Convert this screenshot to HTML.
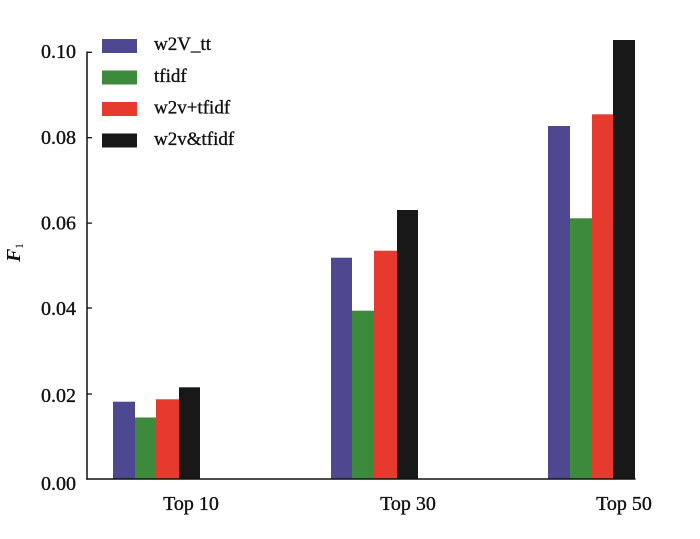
<!DOCTYPE html>
<html>
<head>
<meta charset="utf-8">
<style>
html,body{margin:0;padding:0;background:#fff;}
svg{display:block;}
text{font-family:"Liberation Serif",serif;fill:#111;}
.t{stroke:#111;stroke-width:0.35px;}
</style>
</head>
<body>
<svg width="700" height="539" viewBox="0 0 700 539" xmlns="http://www.w3.org/2000/svg">
<rect width="700" height="539" fill="#fff"/>

<!-- bars: y(v)=479 - v*4270 -->
<!-- Top 10 -->
<rect x="113" y="401.7" width="22" height="77.3" fill="#4d4890"/>
<rect x="135" y="417.5" width="21" height="61.5" fill="#3c8a3b"/>
<rect x="156" y="399.3" width="23" height="79.7" fill="#e63a2f"/>
<rect x="179" y="387.3" width="21" height="91.7" fill="#181818"/>
<!-- Top 30 -->
<rect x="331" y="257.7" width="21" height="221.3" fill="#4d4890"/>
<rect x="352" y="310.7" width="22" height="168.3" fill="#3c8a3b"/>
<rect x="374" y="250.7" width="23" height="228.3" fill="#e63a2f"/>
<rect x="397" y="210" width="21" height="269" fill="#181818"/>
<!-- Top 50 -->
<rect x="548" y="126" width="22" height="353" fill="#4d4890"/>
<rect x="570" y="218.3" width="22" height="260.7" fill="#3c8a3b"/>
<rect x="592" y="114.3" width="21" height="364.7" fill="#e63a2f"/>
<rect x="613" y="40" width="22" height="439" fill="#181818"/>

<!-- axes -->
<line x1="87" y1="51.5" x2="87" y2="479.7" stroke="#111" stroke-width="1.5"/>
<line x1="86.3" y1="479" x2="635.5" y2="479" stroke="#111" stroke-width="1.5"/>

<!-- ticks -->
<g stroke="#111" stroke-width="1.3">
<line x1="87" y1="52.3" x2="92" y2="52.3"/>
<line x1="87" y1="137.7" x2="92" y2="137.7"/>
<line x1="87" y1="223.1" x2="92" y2="223.1"/>
<line x1="87" y1="308" x2="92" y2="308"/>
<line x1="87" y1="394" x2="92" y2="394"/>
</g>

<!-- y tick labels -->
<g font-size="20" text-anchor="end" class="t">
<text x="76" y="58">0.10</text>
<text x="76" y="144">0.08</text>
<text x="76" y="229.5">0.06</text>
<text x="76" y="315">0.04</text>
<text x="76" y="402">0.02</text>
<text x="76" y="490">0.00</text>
</g>

<!-- y axis label -->
<g transform="translate(20,262) rotate(-90)">
<text x="0" y="0" font-size="20" font-style="italic" font-weight="bold">F</text>
<text x="13" y="3" font-size="12">1</text>
</g>

<!-- x labels -->
<g font-size="20" text-anchor="middle" class="t">
<text x="191" y="510">Top 10</text>
<text x="408" y="510">Top 30</text>
<text x="624" y="510">Top 50</text>
</g>

<!-- legend -->
<rect x="102" y="39" width="35" height="14" fill="#4d4890"/>
<rect x="102" y="70.5" width="35" height="14" fill="#3c8a3b"/>
<rect x="102" y="102" width="35" height="14" fill="#e63a2f"/>
<rect x="102" y="133.5" width="35" height="14" fill="#181818"/>
<g font-size="19" class="t">
<text x="154" y="50">w2V_tt</text>
<text x="154" y="82">tfidf</text>
<text x="154" y="113.5">w2v+tfidf</text>
<text x="154" y="145">w2v&amp;tfidf</text>
</g>
</svg>
</body>
</html>
